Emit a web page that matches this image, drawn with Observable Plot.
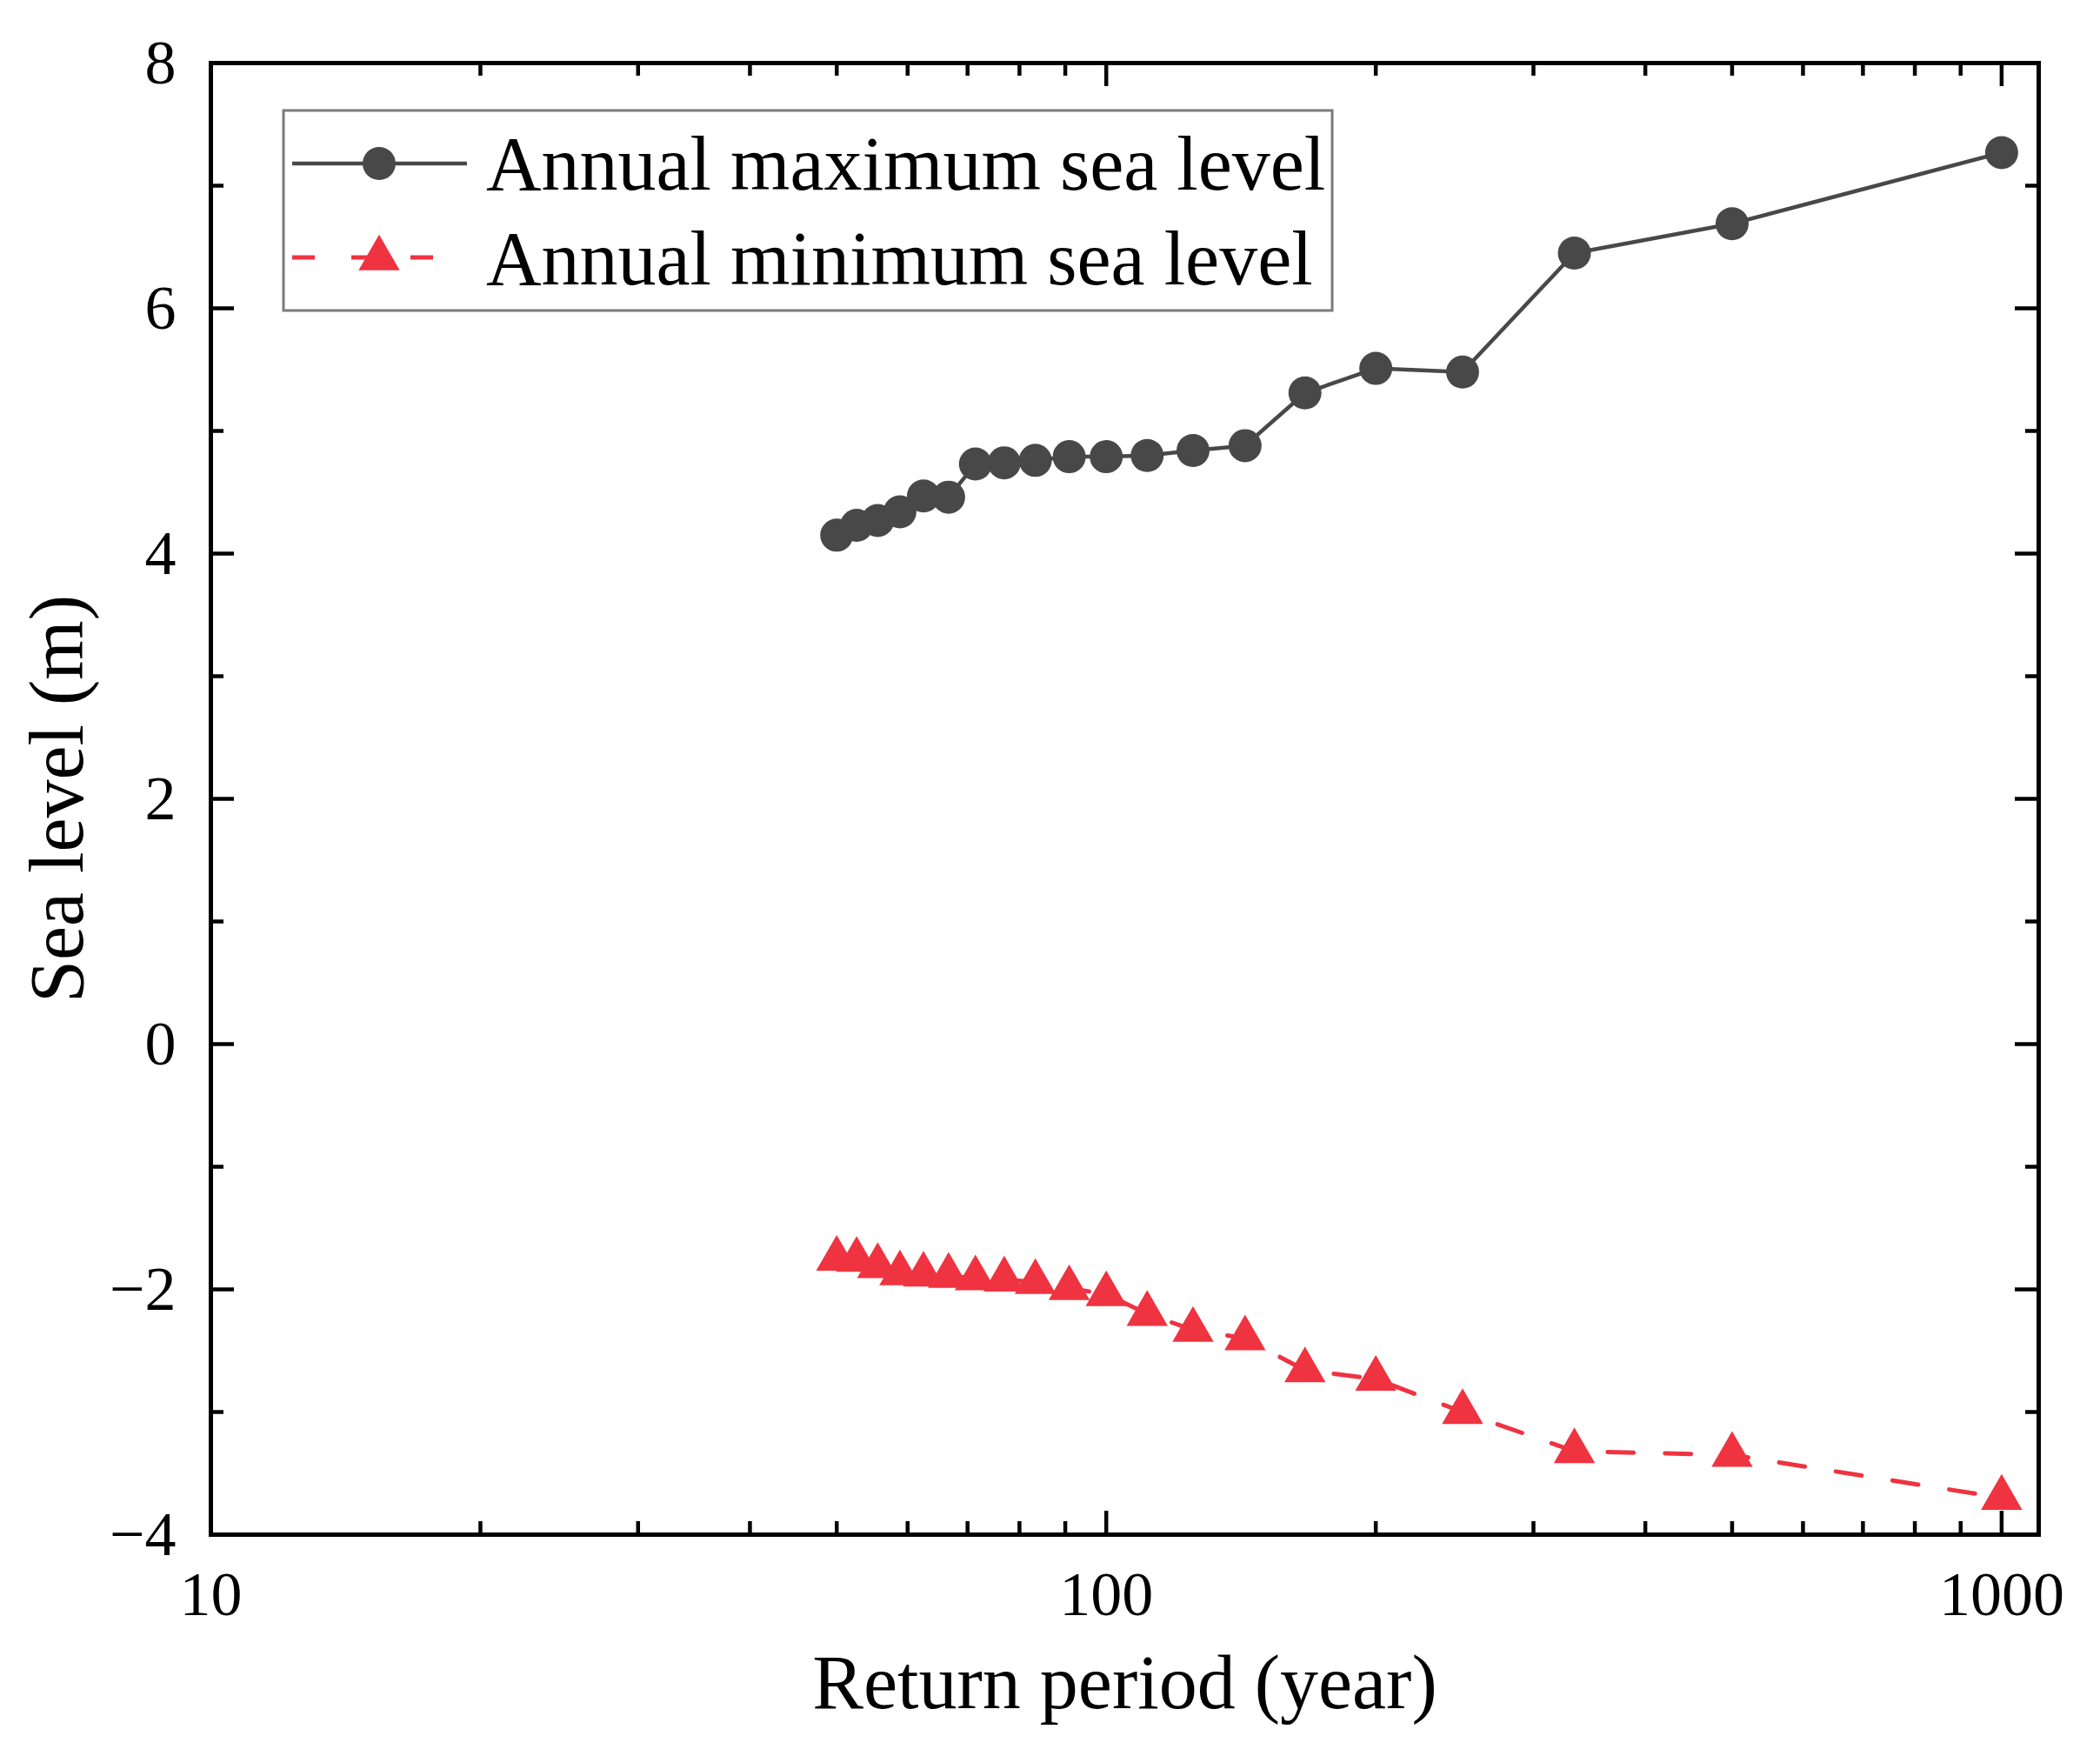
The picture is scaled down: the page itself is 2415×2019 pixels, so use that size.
<!DOCTYPE html>
<html>
<head>
<meta charset="utf-8">
<script src="https://cdn.jsdelivr.net/npm/d3@7"></script>
<script src="https://cdn.jsdelivr.net/npm/@observablehq/plot@0.6"></script>
<style>
  html, body { margin: 0; padding: 0; background: white; }
  #chart svg { display: block; }
</style>
</head>
<body>
<div id="chart"></div>
<script>
// Return periods (years)
const returnPeriods = [50, 52.63, 55.56, 58.82, 62.5, 66.67, 71.43, 76.92, 83.33, 90.91, 100, 111.1, 125, 142.9, 166.7, 200, 250, 333.3, 500, 1000];
// Annual maximum sea level (m)
const maxSeaLevel = [4.15, 4.23, 4.27, 4.34, 4.47, 4.46, 4.73, 4.74, 4.76, 4.79, 4.79, 4.80, 4.84, 4.88, 5.31, 5.51, 5.48, 6.45, 6.69, 7.27];
// Annual minimum sea level (m)
const minSeaLevel = [-1.75, -1.76, -1.81, -1.87, -1.88, -1.89, -1.91, -1.92, -1.94, -1.99, -2.04, -2.20, -2.33, -2.40, -2.66, -2.73, -3.00, -3.32, -3.35, -3.70];

const seriesNames = ["Annual maximum sea level", "Annual minimum sea level"];
const xMajorTicks = [10, 100, 1000];
const xMinorTicks = [20, 30, 40, 50, 60, 70, 80, 90, 200, 300, 400, 500, 600, 700, 800, 900];
const yMajorTicks = [-4, -2, 0, 2, 4, 6, 8];
const yMinorTicks = [-3, -1, 1, 3, 5, 7];
const xLabel = "Return period (year)";
const yLabel = "Sea level (m)";

const maxData = returnPeriods.map((x, i) => ({x, y: maxSeaLevel[i]}));
const minData = returnPeriods.map((x, i) => ({x, y: minSeaLevel[i]}));

const W = 2415, H = 2019;
const mL = 242, mR = 71, mT = 72, mB = 255;
const innerW = W - mL - mR, innerH = H - mT - mB;
const majorLen = 27, minorLen = 15, tickW = 4.5;
const gray = "#484848", red = "#ef3340";
const fmt = d => d < 0 ? "\u2212" + Math.abs(d) : String(d);

const plot = Plot.plot({
  width: W, height: H,
  marginLeft: mL, marginRight: mR, marginTop: mT, marginBottom: mB,
  style: {fontFamily: "Liberation Serif", background: "white", color: "black"},
  x: {type: "log", domain: [10, 1100]},
  y: {domain: [-4, 8]},
  marks: [
    // inward ticks bottom/top
    Plot.tickX(xMajorTicks, {x: d => d, insetTop: innerH - majorLen, stroke: "black", strokeWidth: tickW}),
    Plot.tickX(xMinorTicks, {x: d => d, insetTop: innerH - minorLen, stroke: "black", strokeWidth: tickW}),
    Plot.tickX(xMajorTicks, {x: d => d, insetBottom: innerH - majorLen, stroke: "black", strokeWidth: tickW}),
    Plot.tickX(xMinorTicks, {x: d => d, insetBottom: innerH - minorLen, stroke: "black", strokeWidth: tickW}),
    // inward ticks left/right
    Plot.tickY(yMajorTicks, {y: d => d, insetRight: innerW - majorLen, stroke: "black", strokeWidth: tickW}),
    Plot.tickY(yMinorTicks, {y: d => d, insetRight: innerW - minorLen, stroke: "black", strokeWidth: tickW}),
    Plot.tickY(yMajorTicks, {y: d => d, insetLeft: innerW - majorLen, stroke: "black", strokeWidth: tickW}),
    Plot.tickY(yMinorTicks, {y: d => d, insetLeft: innerW - minorLen, stroke: "black", strokeWidth: tickW}),
    // axis labels
    Plot.axisX(xMajorTicks, {anchor: "bottom", tickSize: 0, tickPadding: 41, tickFormat: d => String(d), fontSize: 72, label: null}),
    Plot.axisY(yMajorTicks, {anchor: "left", tickSize: 0, tickPadding: 40, tickFormat: fmt, fontSize: 72, label: null}),
    Plot.text([xLabel], {text: d => d, frameAnchor: "bottom", textAnchor: "middle", lineAnchor: "top", dy: 137, fontSize: 88}),
    Plot.text([yLabel], {text: d => d, frameAnchor: "left", textAnchor: "middle", rotate: -90, dx: -176, fontSize: 88}),
    // series
    Plot.line(maxData, {x: "x", y: "y", stroke: gray, strokeWidth: 4.5}),
    Plot.dot(maxData, {x: "x", y: "y", r: 19, fill: gray, stroke: "none"}),
    Plot.line(minData, {x: "x", y: "y", stroke: red, strokeWidth: 5, strokeDasharray: "30,36"}),
    Plot.dot(minData, {x: "x", y: "y", symbol: "triangle", r: 17.6, fill: red, stroke: "none"}),
    Plot.frame({stroke: "black", strokeWidth: 5})
  ]
});

document.getElementById("chart").appendChild(plot);

// Legend inside the plot area
const svg = d3.select(plot);
const lg = svg.append("g").attr("class", "legend").attr("text-anchor", "start");
lg.append("rect").attr("x", 326).attr("y", 127).attr("width", 1206).attr("height", 230)
  .attr("fill", "white").attr("stroke", "#7a7a7a").attr("stroke-width", 3);
// row 1
lg.append("line").attr("x1", 336).attr("x2", 537).attr("y1", 188).attr("y2", 188)
  .attr("stroke", gray).attr("stroke-width", 4.5);
lg.append("circle").attr("cx", 436).attr("cy", 188).attr("r", 19).attr("fill", gray);
lg.append("text").attr("x", 559).attr("y", 218).attr("font-size", 88).attr("text-anchor", "start")
  .attr("font-family", "Liberation Serif").attr("fill", "black").text(seriesNames[0]);
// row 2
lg.append("line").attr("x1", 336).attr("x2", 537).attr("y1", 296).attr("y2", 296)
  .attr("stroke", red).attr("stroke-width", 5).attr("stroke-dasharray", "26,42");
lg.append("path").attr("transform", "translate(436,297)")
  .attr("d", d3.symbol(d3.symbolTriangle, Math.PI * 17.6 * 17.6)()).attr("fill", red);
lg.append("text").attr("x", 559).attr("y", 327).attr("font-size", 88).attr("text-anchor", "start")
  .attr("font-family", "Liberation Serif").attr("fill", "black").text(seriesNames[1]);
</script>
</body>
</html>
